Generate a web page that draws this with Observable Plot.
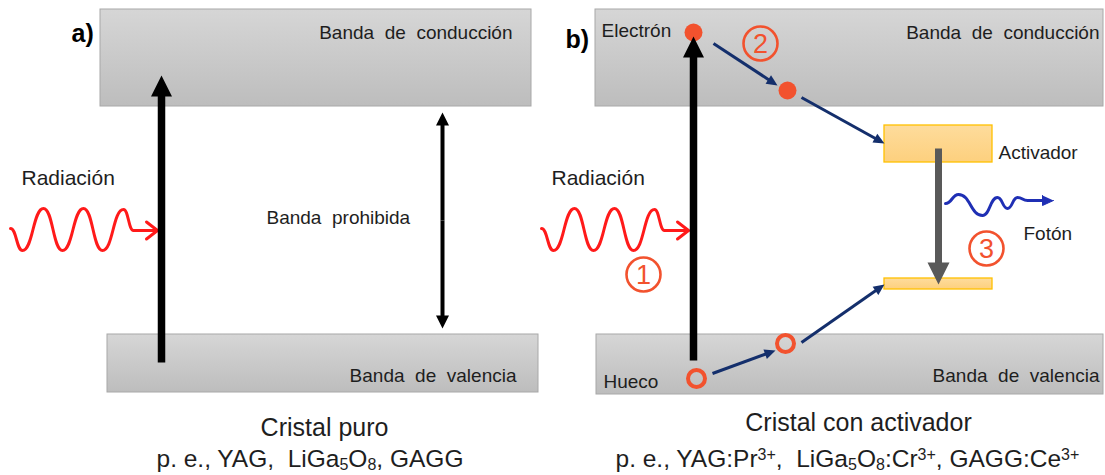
<!DOCTYPE html>
<html><head><meta charset="utf-8">
<script src="https://cdn.jsdelivr.net/npm/d3@7"></script>
<script src="https://cdn.jsdelivr.net/npm/@observablehq/plot@0.6"></script>
<style>body{margin:0;background:#fff} svg text{white-space:pre}</style>
</head><body><div id="chart"></div>
<script>
const W = 1105, H = 475;

// Energy bands (diagram coordinates)
const bands = [
  {x1: 100, x2: 531, y1: 9, y2: 106},
  {x1: 107, x2: 538, y1: 334, y2: 392},
  {x1: 595, x2: 1103, y1: 9, y2: 106},
  {x1: 596, x2: 1103, y1: 334, y2: 394}
];
// Activator levels
const levels = [
  {x1: 884, x2: 992, y1: 125, y2: 162},
  {x1: 884, x2: 992, y1: 278, y2: 289}
];
// Arrows: start -> tip
const excitation = [
  {id: "exA", x1: 161, y1: 362, x2: 161, y2: 75},
  {id: "exB", x1: 693, y1: 360, x2: 693, y2: 36}
];
const emission = [{id: "em", x1: 938, y1: 148, x2: 938, y2: 284}];
const gap = [
  {id: "gapUp", x1: 442, y1: 220, x2: 442, y2: 112},
  {id: "gapDown", x1: 442, y1: 220, x2: 442, y2: 328}
];
const transfers = [
  {id: "t1", x1: 713, y1: 43, x2: 777, y2: 85},
  {id: "t2", x1: 801, y1: 97, x2: 884, y2: 143},
  {id: "t3", x1: 712, y1: 373, x2: 775, y2: 350},
  {id: "t4", x1: 801, y1: 342, x2: 884, y2: 284}
];
const electrons = [{x: 693, y: 32}, {x: 787, y: 90}];
const holes = [{x: 696, y: 378}, {x: 785, y: 343}];
const steps = [{n: "1", x: 643, y: 274}, {n: "2", x: 760, y: 43}, {n: "3", x: 986, y: 248}];

// Radiation waves (peak / trough vertices) and photon
const waveA = [[10,228],[22,250],[43,208],[62,250],[83,208],[102,250],[123,209],[133,230],[157,230]];
const waveB = [[541,228],[553,250],[574,208],[593,250],[614,208],[633,250],[654,209],[664,230],[688,230]];
const photonWave = [[945,203],[958,194],[982,215],[997,197],[1007,208],[1017,197],[1027,200],[1046,200]];
const waveHeads = [{id: "hA", x: 157, y: 230}, {id: "hB", x: 688, y: 230}];
const photonHead = [{id: "ph", x1: 1030, y1: 200, x2: 1053, y2: 200}];

// Texts
const bandLabels = [
  {t: "Banda\u00a0 de\u00a0 conducción", x: 512, y: 32},
  {t: "Banda\u00a0 de\u00a0 valencia", x: 516, y: 375},
  {t: "Banda\u00a0 de\u00a0 conducción", x: 1099, y: 32},
  {t: "Banda\u00a0 de\u00a0 valencia", x: 1099, y: 375}
];
const sideLabels = [
  {t: "Radiación", x: 21, y: 178, s: 21},
  {t: "Radiación", x: 551, y: 178, s: 21},
  {t: "Banda\u00a0 prohibida", x: 266, y: 217, s: 19},
  {t: "Electrón", x: 601, y: 30, s: 19},
  {t: "Activador", x: 998, y: 152, s: 19},
  {t: "Fotón", x: 1023, y: 233, s: 19},
  {t: "Hueco", x: 603, y: 381, s: 19}
];
const panelLabels = [{t: "a)", x: 71, y: 33}, {t: "b)", x: 565, y: 39}];
const captions = [
  {t: "Cristal puro", x: 324, y: 427},
  {t: "Cristal con activador", x: 858, y: 422}
];
const examples = [
  {t: "p. e., YAG,\u00a0 LiGa_{5}O_{8}, GAGG", x: 156, y: 459},
  {t: "p. e., YAG:Pr^{3+},\u00a0 LiGa_{5}O_{8}:Cr^{3+}, GAGG:Ce^{3+}", x: 615, y: 459}
];

// geometry helpers (derived from arrow endpoints)
function unit(a) {
  const dx = a.x2 - a.x1, dy = a.y2 - a.y1, L = Math.hypot(dx, dy);
  return [dx / L, dy / L];
}
function headPts(list, len, wid) {
  return list.flatMap(a => {
    const [ux, uy] = unit(a), nx = -uy, ny = ux;
    const bx = a.x2 - ux * len, by = a.y2 - uy * len;
    return [
      {id: a.id, x: a.x2, y: a.y2},
      {id: a.id, x: bx + nx * wid / 2, y: by + ny * wid / 2},
      {id: a.id, x: bx - nx * wid / 2, y: by - ny * wid / 2}
    ];
  });
}
function shafts(list, len) {
  return list.map(a => {
    const [ux, uy] = unit(a);
    return {x1: a.x1, y1: a.y1, x2: a.x2 - ux * len * 0.8, y2: a.y2 - uy * len * 0.8};
  });
}
function chevron(list, len, wid) {
  return list.flatMap(h => [
    {id: h.id, x: h.x - len, y: h.y - wid / 2},
    {id: h.id, x: h.x, y: h.y},
    {id: h.id, x: h.x - len, y: h.y + wid / 2}
  ]);
}
const pts = w => w.map(([x, y]) => ({x, y}));

const red = "#ff1a1a", orange = "#f2522e", navy = "#142f6c", ink = "#1e1e1e";

const svg = Plot.plot({
  width: W, height: H,
  margin: 0,
  x: {domain: [0, W], range: [0, W], axis: null},
  y: {domain: [0, H], range: [0, H], axis: null},
  style: {fontFamily: "'Liberation Sans', Arial, sans-serif", background: "#fff", color: ink},
  marks: [
    Plot.rect(bands, {x1: "x1", x2: "x2", y1: "y1", y2: "y2", fill: "url(#bandGrad)", stroke: "#a8a8a8", strokeWidth: 1}),
    Plot.rect(levels, {x1: "x1", x2: "x2", y1: "y1", y2: "y2", fill: "url(#actGrad)", stroke: "#ffc000", strokeWidth: 1.3}),
    // radiation waves
    Plot.line(pts(waveA), {x: "x", y: "y", curve: "bump-x", stroke: red, strokeWidth: 3}),
    Plot.line(pts(waveB), {x: "x", y: "y", curve: "bump-x", stroke: red, strokeWidth: 3}),
    Plot.line(chevron(waveHeads, 11, 17), {x: "x", y: "y", z: "id", stroke: red, strokeWidth: 3, strokeLinejoin: "miter"}),
    // photon
    Plot.line(pts(photonWave), {x: "x", y: "y", curve: "bump-x", stroke: "#1f2fb4", strokeWidth: 3}),
    Plot.line(headPts(photonHead, 11, 10), {x: "x", y: "y", z: "id", fill: "#1f2fb4", stroke: "#1f2fb4", strokeWidth: 1}),
    // electrons & holes
    Plot.dot(electrons, {x: "x", y: "y", r: 9, fill: orange, stroke: "none"}),
    Plot.dot(holes, {x: "x", y: "y", r: 8.5, fill: "none", stroke: orange, strokeWidth: 4}),
    // band gap double arrow
    Plot.link(shafts(gap, 13), {x1: "x1", y1: "y1", x2: "x2", y2: "y2", stroke: "#000", strokeWidth: 4}),
    Plot.line(headPts(gap, 13, 13), {x: "x", y: "y", z: "id", fill: "#000", stroke: "none"}),
    // excitation arrows
    Plot.link(shafts(excitation, 21), {x1: "x1", y1: "y1", x2: "x2", y2: "y2", stroke: "#000", strokeWidth: 7.5}),
    Plot.line(headPts(excitation, 21, 21), {x: "x", y: "y", z: "id", fill: "#000", stroke: "none"}),
    // emission arrow
    Plot.link(shafts(emission, 22), {x1: "x1", y1: "y1", x2: "x2", y2: "y2", stroke: "#595959", strokeWidth: 7}),
    Plot.line(headPts(emission, 22, 22), {x: "x", y: "y", z: "id", fill: "#595959", stroke: "none"}),
    // transfer arrows
    Plot.link(shafts(transfers, 11), {x1: "x1", y1: "y1", x2: "x2", y2: "y2", stroke: navy, strokeWidth: 3}),
    Plot.line(headPts(transfers, 11, 10), {x: "x", y: "y", z: "id", fill: navy, stroke: "none"}),
    // step markers
    Plot.dot(steps, {x: "x", y: "y", r: 17, fill: "none", stroke: orange, strokeWidth: 2.6}),
    Plot.text(steps, {x: "x", y: "y", text: "n", fontSize: 27, fill: orange, dy: 1}),
    // texts
    Plot.text(bandLabels, {x: "x", y: "y", text: "t", fontSize: 19, textAnchor: "end", fill: ink}),
    Plot.text(sideLabels, {x: "x", y: "y", text: "t", fontSize: 19, textAnchor: "start", fill: ink}),
    Plot.text(panelLabels, {x: "x", y: "y", text: "t", fontSize: 25, fontWeight: "bold", textAnchor: "start", fill: "#000"}),
    Plot.text(captions, {x: "x", y: "y", text: "t", fontSize: 25, fill: ink}),
    Plot.text(examples, {x: "x", y: "y", text: "t", fontSize: 24.5, textAnchor: "start", fill: ink})
  ]
});

// per-label font sizes for side labels
const sel = d3.select(svg);
sel.selectAll("text").each(function() {
  const t = this.textContent;
  const s = sideLabels.find(d => d.t === t);
  if (s) this.setAttribute("font-size", s.s);
});

// gradients
const defs = sel.insert("defs", ":first-child");
const g1 = defs.append("linearGradient").attr("id", "bandGrad").attr("x1", 0).attr("y1", 0).attr("x2", 0).attr("y2", 1);
g1.append("stop").attr("offset", "0%").attr("stop-color", "#d6d6d6");
g1.append("stop").attr("offset", "100%").attr("stop-color", "#bdbdbd");
const g2 = defs.append("linearGradient").attr("id", "actGrad").attr("x1", 0).attr("y1", 0).attr("x2", 0).attr("y2", 1);
g2.append("stop").attr("offset", "0%").attr("stop-color", "#fedc9c");
g2.append("stop").attr("offset", "100%").attr("stop-color", "#fdd07e");

// sub/superscripts
sel.selectAll("text").each(function() {
  const t = this.textContent;
  if (!/[\^_]\{/.test(t)) return;
  while (this.firstChild) this.removeChild(this.firstChild);
  const parts = t.split(/(\^\{[^}]*\}|_\{[^}]*\})/).filter(p => p !== "");
  let shift = 0;
  for (const p of parts) {
    const ts = document.createElementNS("http://www.w3.org/2000/svg", "tspan");
    let target = 0;
    if (p.startsWith("^{")) { ts.textContent = p.slice(2, -1); ts.setAttribute("font-size", 16); target = -7; }
    else if (p.startsWith("_{")) { ts.textContent = p.slice(2, -1); ts.setAttribute("font-size", 16); target = 3; }
    else ts.textContent = p;
    if (target !== shift) { ts.setAttribute("dy", target - shift); shift = target; }
    this.appendChild(ts);
  }
});

document.getElementById("chart").appendChild(svg);
</script>
</body></html>
